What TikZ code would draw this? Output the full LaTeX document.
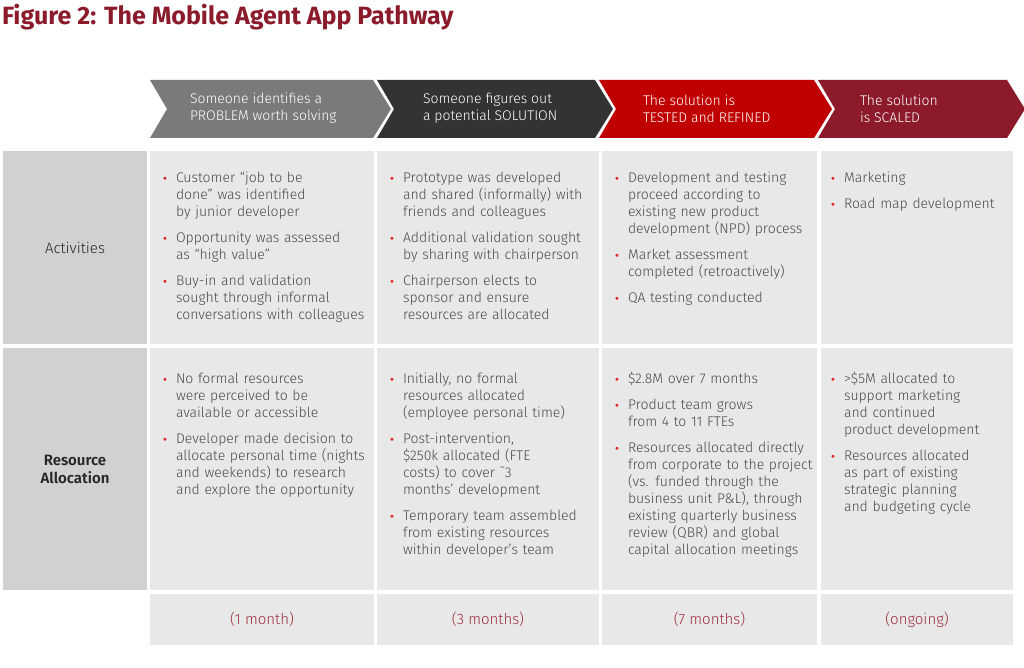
\documentclass[tikz,border=0pt]{standalone}
\usepackage{fontspec}
\setmainfont{Fira Sans Light}[BoldFont={Fira Sans SemiBold}]
\newfontfamily\titlefont{Fira Sans}
\newfontfamily\bulletfont{DejaVu Sans}
\usepackage{enumitem}
\usetikzlibrary{positioning}
\definecolor{titlered}{HTML}{8B1A2B}
\definecolor{chevgray}{HTML}{7A7A7A}
\definecolor{chevdark}{HTML}{333333}
\definecolor{chevred}{HTML}{C00000}
\definecolor{chevmaroon}{HTML}{8C1A2B}
\definecolor{sidegray}{HTML}{D0D1D3}
\definecolor{cellgray}{HTML}{E8E8E8}
\definecolor{txtgray}{HTML}{4A4A4A}
\definecolor{bulletred}{HTML}{E0262B}
\definecolor{durred}{HTML}{9E2F3D}
\setlist[itemize]{leftmargin=13pt, labelwidth=5pt, labelsep=8pt, itemsep=9pt, topsep=0pt, parsep=0pt, partopsep=0pt, label={\bulletfont\fontsize{10}{10}\selectfont\color{bulletred}•}}
\tikzset{
every node/.style={inner sep=0pt, outer sep=0pt},
cell/.style={fill=cellgray, anchor=north west},
side/.style={fill=sidegray, anchor=north west, align=center, text=black!85, font=\fontsize{15}{18}\selectfont}}

\begin{document}
\begin{tikzpicture}[x=1pt,y=-1pt, chev/.style={text=white, anchor=west, align=left, font=\fontsize{14}{17}\selectfont},
  items/.style={anchor=north west, text width=#1, text=txtgray, font=\fontsize{14}{17}\selectfont},
  dur/.style={cell, text=durred, font=\fontsize{15}{18}\selectfont, minimum height=51}]
\useasboundingbox (0,0) rectangle (1024,668);
\node[anchor=base west, text=titlered, font=\titlefont\bfseries\fontsize{25}{28}\selectfont] (title) at (2,25) {Figure 2: The Mobile Agent App Pathway};
% header chevrons
\foreach \a/\b/\c/\t/\lbl [count=\i] in {150/373/chevgray/190/{Someone identifies a\\PROBLEM worth solving},
    377/595/chevdark/423/{Someone figures out\\a potential SOLUTION},
    599/814/chevred/643/{The solution is\\TESTED and REFINED},
    818/1007/chevmaroon/860/{The solution\\is SCALED}}{
  \fill[\c] (\a,80) -- (\b,80) -- (\b+18,109) -- (\b,138) -- (\a,138) -- (\a+17,109) -- cycle;
  \node[chev] (head\i) at (\t,108.5) {\lbl};
}
% grid
\node[side, minimum width=144, minimum height=193] (act) at (3,151) {Activities};
\node[side, minimum width=144, minimum height=242, font=\bfseries\fontsize{15}{18}\selectfont] (res) at (3,348) {Resource\\Allocation};
\foreach \x/\w/\d [count=\i] in {150/224/{(1 month)},377/222/{(3 months)},602/215/{(7 months)},821/192/{(ongoing)}}{
  \node[cell, minimum width=\w, minimum height=193] (act\i) at (\x,151) {};
  \node[cell, minimum width=\w, minimum height=242] (res\i) at (\x,348) {};
  \node[dur, minimum width=\w] (dur\i) at (\x,594) {\d};
}
% activities
\node[items=210] (actlist1) at (163,166) {\begin{itemize}
  \item Customer “job to be\newline done” was identified\newline by junior developer
  \item Opportunity was assessed\newline as “high value”
  \item Buy-in and validation\newline sought through informal\newline conversations with colleagues
\end{itemize}};
\node[items=210] (actlist2) at (390,166) {\begin{itemize}
  \item Prototype was developed\newline and shared (informally) with\newline friends and colleagues
  \item Additional validation sought\newline by sharing with chairperson
  \item Chairperson elects to\newline sponsor and ensure\newline resources are allocated
\end{itemize}};
\node[items=205] (actlist3) at (615,166) {\begin{itemize}
  \item Development and testing\newline proceed according to\newline existing new product\newline development (NPD) process
  \item Market assessment\newline completed (retroactively)
  \item QA testing conducted
\end{itemize}};
\node[items=180] (actlist4) at (831,166) {\begin{itemize}
  \item Marketing
  \item Road map development
\end{itemize}};
% resources
\node[items=210] (reslist1) at (163,366) {\begin{itemize}
  \item No formal resources\newline were perceived to be\newline available or accessible
  \item Developer made decision to\newline allocate personal time (nights\newline and weekends) to research\newline and explore the opportunity
\end{itemize}};
\node[items=210] (reslist2) at (390,366) {\begin{itemize}
  \item Initially, no formal\newline resources allocated\newline (employee personal time)
  \item Post-intervention,\newline \$250k allocated (FTE\newline costs) to cover ˜3\newline months’ development
  \item Temporary team assembled\newline from existing resources\newline within developer’s team
\end{itemize}};
\node[items=205] (reslist3) at (615,366) {\begin{itemize}
  \item \$2.8M over 7 months
  \item Product team grows\newline from 4 to 11 FTEs
  \item Resources allocated directly\newline from corporate to the project\newline (vs. funded through the\newline business unit P\&L), through\newline existing quarterly business\newline review (QBR) and global\newline capital allocation meetings
\end{itemize}};
\node[items=180] (reslist4) at (831,366) {\begin{itemize}
  \item >\$5M allocated to\newline support marketing\newline and continued\newline product development
  \item Resources allocated\newline as part of existing\newline strategic planning\newline and budgeting cycle
\end{itemize}};
\end{tikzpicture}
\end{document}
